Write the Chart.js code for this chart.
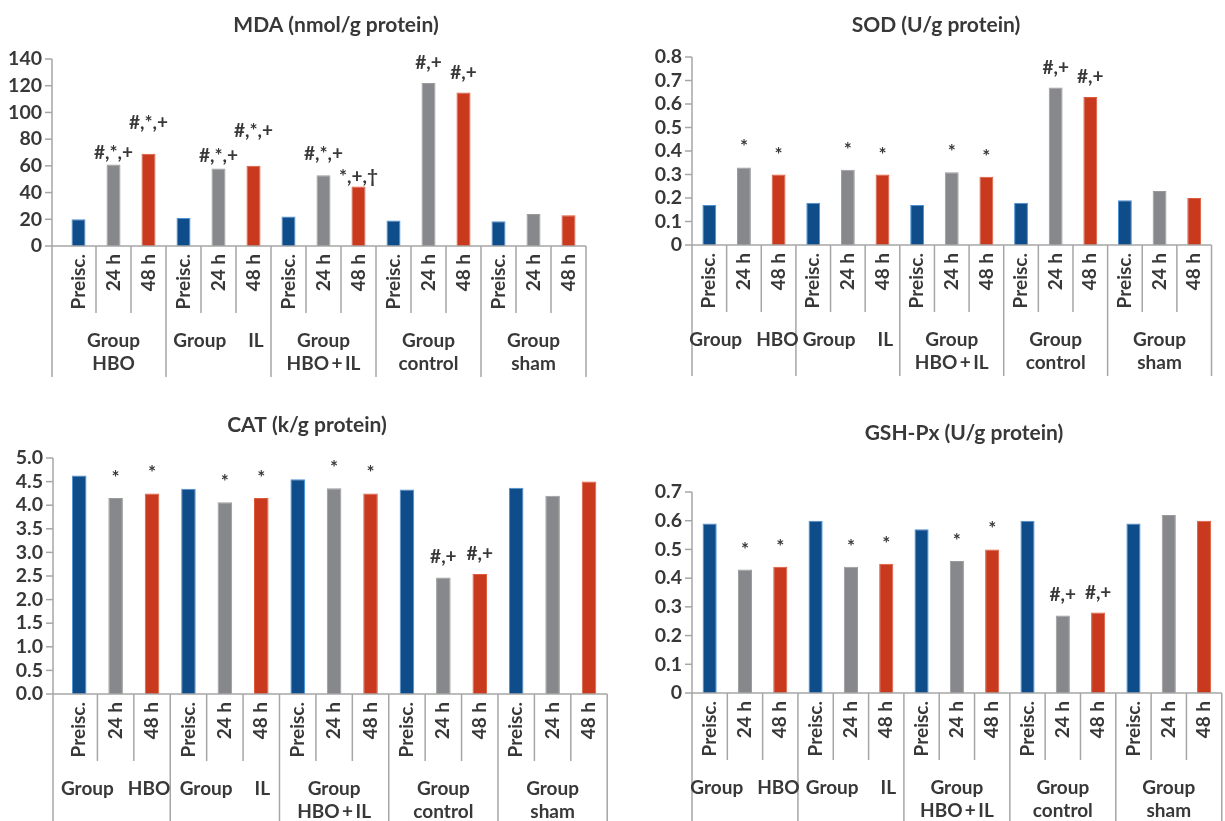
<!DOCTYPE html>
<html lang="en">
<head>
<meta charset="UTF-8">
<title>MDA, SOD, CAT, GSH-Px</title>
<script src="https://cdn.jsdelivr.net/npm/chart.js@4.4.1/dist/chart.umd.min.js"></script>
<style>
  html, body { margin: 0; padding: 0; background: #fff; overflow: hidden; }
  body { width: 1225px; height: 821px; position: relative; }
  canvas { position: absolute; }
</style>
</head>
<body>
<canvas id="mda"></canvas>
<canvas id="sod"></canvas>
<canvas id="cat"></canvas>
<canvas id="gsh"></canvas>

<script>
// ---- data ----
const timeLabels = ['Preisc.', '24 h', '48 h'];
const groupNames = ['HBO', 'IL', 'HBO+IL', 'control', 'sham'];

const mdaValues = [20, 61, 69, 21, 58, 60, 22, 53, 44.5, 19, 122, 115, 18.5, 24, 23];
const sodValues = [0.17, 0.33, 0.30, 0.18, 0.32, 0.30, 0.17, 0.31, 0.29, 0.18, 0.67, 0.63, 0.19, 0.23, 0.20];
const catValues = [4.63, 4.15, 4.25, 4.35, 4.06, 4.15, 4.55, 4.36, 4.25, 4.33, 2.47, 2.54, 4.37, 4.20, 4.50];
const gshValues = [0.59, 0.43, 0.44, 0.60, 0.44, 0.45, 0.57, 0.46, 0.50, 0.60, 0.27, 0.28, 0.59, 0.62, 0.60];

const mdaMarks = ['', '#,*,+', '#,*,+', '', '#,*,+', '#,*,+', '', '#,*,+', '*,+,\u2020', '', '#,+', '#,+', '', '', ''];
const sodMarks = ['', '*', '*', '', '*', '*', '', '*', '*', '', '#,+', '#,+', '', '', ''];
const catMarks = ['', '*', '*', '', '*', '*', '', '*', '*', '', '#,+', '#,+', '', '', ''];
const gshMarks = ['', '*', '*', '', '*', '*', '', '*', '*', '', '#,+', '#,+', '', '', ''];

const mdaTicks = [0, 20, 40, 60, 80, 100, 120, 140];
const sodTicks = [0, 0.1, 0.2, 0.3, 0.4, 0.5, 0.6, 0.7, 0.8];
const catTicks = [0, 0.5, 1, 1.5, 2, 2.5, 3, 3.5, 4, 4.5, 5];
const gshTicks = [0, 0.1, 0.2, 0.3, 0.4, 0.5, 0.6, 0.7];

const categories = [];
groupNames.forEach(() => timeLabels.forEach(t => categories.push(t)));

// ---- look ----
const FONT = 'Lato, "Open Sans", sans-serif';
const TEXT = '#383838';
const AXIS = '#a6a6a6';
const fills = ['#0f4d8a', '#87888b', '#c9391e'];
const edges = ['#4d92d2', '#9a9a9c', '#dd5a3a'];
const splitGap = { 'HBO': 14, 'IL': 22 };
// how far (px) each significance mark sits above its bar; the MDA ones were placed by hand
const mdaLift = [14, 6, 25, 14, 7, 29, 14, 15, 4, 14, 14, 13, 14, 14, 14];

// canvas box and plot area in page pixels
const panels = [
  { id: 'mda', title: 'MDA (nmol/g protein)', values: mdaValues, marks: mdaMarks, ticks: mdaTicks, dec: 0,
    split: ['IL'], lift: mdaLift,
    box: { left: 0, top: 0, w: 600, h: 400 }, area: { l: 61, r: 586, t: 59, b: 246 }, axisX: 52, titleAt: [336, 25] },
  { id: 'sod', title: 'SOD (U/g protein)', values: sodValues, marks: sodMarks, ticks: sodTicks, dec: 1,
    split: ['HBO', 'IL'],
    box: { left: 620, top: 0, w: 605, h: 400 }, area: { l: 692, r: 1225, t: 57, b: 245 }, axisX: 692, titleAt: [936, 25] },
  { id: 'cat', title: 'CAT (k/g protein)', values: catValues, marks: catMarks, ticks: catTicks, dec: 1, fixed: true,
    split: ['HBO', 'IL'],
    box: { left: 0, top: 400, w: 620, h: 421 }, area: { l: 61, r: 614.5, t: 458, b: 694 }, axisX: 53, titleAt: [307, 425] },
  { id: 'gsh', title: 'GSH-Px (U/g protein)', values: gshValues, marks: gshMarks, ticks: gshTicks, dec: 1,
    split: ['HBO', 'IL'],
    box: { left: 625, top: 400, w: 610, h: 421 }, area: { l: 692, r: 1232, t: 492, b: 693 }, axisX: 692, titleAt: [964, 433] }
];

const furniture = {
  id: 'furniture',
  afterDraw(chart, args, o) {
    const { ctx, chartArea: a, scales: { x, y } } = chart;
    const axisX = a.left - o.gap;
    const line = (x1, y1, x2, y2) => { ctx.beginPath(); ctx.moveTo(x1, y1); ctx.lineTo(x2, y2); ctx.stroke(); };
    ctx.save();
    ctx.strokeStyle = AXIS;
    ctx.lineWidth = 1.5;

    // axes
    line(axisX, a.top, axisX, a.bottom + 131);
    y.ticks.forEach(t => {
      const py = y.getPixelForValue(t.value);
      line(axisX - 7, py, axisX, py);
    });
    line(axisX, a.bottom, a.right, a.bottom);

    // category separators (short) and group separators (long)
    for (let k = 1; k <= categories.length; k++) {
      const px = x.getPixelForValue(k - 0.5);
      line(px, a.bottom, px, a.bottom + (k % 3 ? 67 : 131));
    }

    // group labels
    ctx.fillStyle = TEXT;
    ctx.font = 'bold 19px ' + FONT;
    ctx.textBaseline = 'middle';
    groupNames.forEach((name, g) => {
      const cx = (x.getPixelForValue(3 * g - 0.5) + x.getPixelForValue(3 * g + 2.5)) / 2;
      const label = name === 'HBO+IL' ? 'HBO\u2009+\u2009IL' : name;
      if (o.split.includes(name)) {
        const w1 = ctx.measureText('Group').width;
        const w2 = ctx.measureText(label).width;
        const gap = splitGap[name];
        const x0 = cx - (w1 + gap + w2) / 2;
        ctx.textAlign = 'left';
        ctx.fillText('Group', x0, a.bottom + 95);
        ctx.fillText(label, x0 + w1 + gap, a.bottom + 95);
      } else {
        ctx.textAlign = 'center';
        ctx.fillText('Group', cx, a.bottom + 95);
        ctx.fillText(label, cx, a.bottom + 118);
      }
    });

    // significance marks
    ctx.font = 'bold 19px ' + FONT;
    ctx.textAlign = 'center';
    ctx.textBaseline = 'alphabetic';
    chart.getDatasetMeta(0).data.forEach((bar, i) => {
      if (o.marks[i]) ctx.fillText(o.marks[i], bar.x, bar.y - (o.lift ? o.lift[i] : 14));
    });

    // title
    ctx.font = 'bold 21px ' + FONT;
    ctx.textBaseline = 'middle';
    ctx.fillText(o.title, o.titleX, o.titleY);
    ctx.restore();
  }
};

panels.forEach(p => {
  const cv = document.getElementById(p.id);
  cv.width = p.box.w;
  cv.height = p.box.h;
  cv.style.left = p.box.left + 'px';
  cv.style.top = p.box.top + 'px';

  new Chart(cv, {
    type: 'bar',
    data: {
      labels: categories,
      datasets: [{
        data: p.values,
        backgroundColor: p.values.map((v, i) => fills[i % 3]),
        borderColor: p.values.map((v, i) => edges[i % 3]),
        borderWidth: 1,
        barPercentage: 0.4,
        categoryPercentage: 1
      }]
    },
    options: {
      responsive: false,
      animation: false,
      events: [],
      layout: {
        padding: {
          top: p.area.t - p.box.top,
          right: p.box.left + p.box.w - p.area.r,
          left: 0,
          bottom: 0
        }
      },
      plugins: {
        legend: { display: false },
        tooltip: { enabled: false },
        title: { display: false },
        furniture: {
          gap: p.area.l - p.axisX,
          marks: p.marks,
          lift: p.lift,
          split: p.split,
          title: p.title,
          titleX: p.titleAt[0] - p.box.left,
          titleY: p.titleAt[1] - p.box.top
        }
      },
      scales: {
        x: {
          grid: { display: false, drawTicks: false },
          border: { display: false },
          ticks: {
            autoSkip: false,
            maxRotation: 90,
            minRotation: 90,
            padding: 8,
            color: TEXT,
            font: { family: FONT, size: 19, weight: 'bold' }
          },
          afterFit: s => { s.height = p.box.top + p.box.h - p.area.b; }
        },
        y: {
          min: p.ticks[0],
          max: p.ticks[p.ticks.length - 1],
          grid: { display: false, drawTicks: false },
          border: { display: false },
          afterBuildTicks: s => { s.ticks = p.ticks.map(v => ({ value: v })); },
          ticks: {
            autoSkip: false,
            padding: p.area.l - p.axisX + 10,
            color: TEXT,
            font: { family: FONT, size: 19.5, weight: 'bold' },
            callback: v => (p.fixed ? v.toFixed(1) : (v === 0 ? '0' : v.toFixed(p.dec)))
          },
          afterFit: s => { s.width = p.area.l - p.box.left; }
        }
      }
    },
    plugins: [furniture]
  });
});
</script>
</body>
</html>
